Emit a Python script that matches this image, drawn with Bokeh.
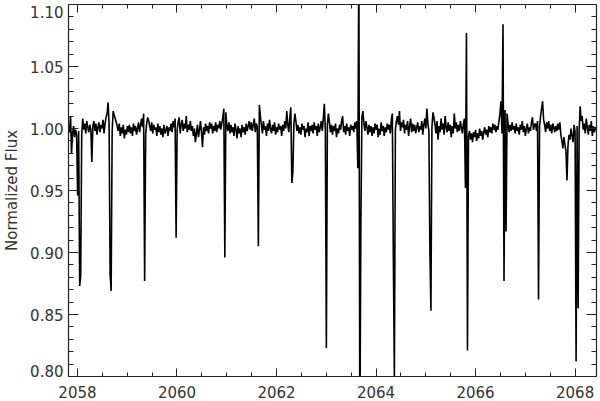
import numpy as np
from bokeh.plotting import figure
from bokeh.models import (LinearAxis, SingleIntervalTicker, FixedTicker,
                          CustomJSTickFormatter)
from bokeh.embed import file_html
from bokeh.resources import INLINE

# ---------------- data ----------------
T_START = 2057.82      # time of first sample
CADENCE = 0.0204       # days between samples
X_RANGE = (2057.82, 2068.43)
Y_RANGE = (0.80, 1.10)
X_TICK_STEP = 2
Y_MAJOR = [0.85, 0.90, 0.95, 1.00, 1.05]
Y_TITLE = "Normalized Flux"

flux = [
    1.001, 0.997, 1.010, 0.980, 0.996, 1.002, 0.993, 0.999, 0.995, 0.946, 0.998, 0.873, 0.881, 0.995, 1.008, 0.999, 1.004, 0.996, 1.006, 1.001,
    0.997, 1.003, 0.999, 0.973, 1.002, 1.006, 0.998, 1.004, 0.995, 1.001, 1.005, 0.997, 1.003, 1.000, 1.007, 0.996, 1.004, 1.009, 1.012, 1.021,
    1.003, 0.882, 0.869, 0.998, 1.014, 1.011, 1.008, 1.005, 1.002, 0.998, 1.004, 0.994, 1.001, 0.996, 1.003, 0.992, 0.999, 0.995, 1.002, 0.997,
    1.003, 0.996, 1.001, 0.994, 1.004, 0.998, 1.002, 0.995, 1.000, 1.005, 0.997, 1.003, 1.008, 1.001, 1.012, 0.877, 0.995, 1.004, 1.009, 1.006,
    1.002, 0.998, 1.005, 0.996, 1.003, 0.999, 1.001, 0.994, 1.004, 0.997, 1.002, 0.995, 1.000, 0.993, 1.003, 0.996, 0.999, 1.002, 0.994, 1.001,
    0.998, 1.004, 0.997, 1.006, 1.001, 1.008, 0.912, 0.999, 1.005, 1.009, 0.996, 1.003, 1.007, 0.998, 1.004, 1.000, 1.010, 0.997, 1.003, 0.999,
    1.006, 0.998, 1.002, 0.994, 1.000, 0.989, 0.996, 1.003, 0.993, 0.999, 1.006, 0.997, 0.985, 1.001, 0.995, 1.004, 0.998, 1.002, 0.996, 1.005,
    1.000, 1.004, 0.996, 1.002, 0.998, 1.005, 0.997, 1.003, 1.000, 1.006, 0.999, 1.004, 1.009, 1.016, 0.896, 1.013, 1.002, 0.998, 1.005, 0.996,
    1.003, 0.997, 1.001, 0.994, 1.004, 0.999, 0.992, 1.002, 0.996, 1.000, 0.993, 1.003, 0.997, 1.001, 0.995, 1.004, 0.998, 1.002, 1.006, 0.999,
    1.005, 0.998, 1.003, 1.008, 0.997, 1.004, 1.001, 0.905, 1.019, 1.010, 1.003, 0.996, 1.006, 0.999, 1.002, 0.994, 1.004, 0.998, 1.007, 1.000,
    0.996, 1.003, 0.998, 1.005, 0.995, 1.001, 0.997, 1.004, 0.999, 1.002, 0.994, 1.003, 0.998, 1.006, 1.000, 1.014, 1.003, 0.997, 1.009, 1.017,
    0.956, 0.965, 1.004, 1.012, 1.006, 0.998, 1.003, 0.996, 1.001, 0.995, 1.004, 0.999, 1.002, 0.993, 1.000, 0.997, 1.005, 0.994, 1.002, 0.998,
    1.003, 0.996, 1.005, 0.999, 1.002, 0.994, 1.004, 0.997, 1.001, 1.006, 0.998, 1.008, 1.020, 0.999, 0.823, 1.003, 1.012, 1.005, 0.997, 1.003,
    0.995, 1.002, 0.998, 1.004, 0.993, 1.000, 0.996, 1.003, 0.999, 1.006, 1.010, 0.997, 1.002, 0.995, 1.004, 0.998, 1.001, 0.994, 1.003, 0.999,
    1.002, 0.997, 1.005, 1.000, 1.006, 0.968, 1.140, 0.750, 0.923, 1.009, 1.014, 1.004, 0.998, 1.006, 1.001, 0.995, 1.003, 0.997, 1.002, 0.994,
    1.001, 0.996, 1.004, 0.999, 1.003, 0.993, 1.000, 0.995, 1.005, 0.998, 1.002, 0.994, 1.001, 0.997, 1.004, 0.999, 1.003, 0.996, 1.007, 1.012,
    0.895, 0.800, 0.999, 1.006, 1.010, 1.003, 1.014, 0.998, 1.005, 1.001, 1.007, 0.996, 1.003, 0.999, 1.006, 0.994, 1.002, 1.008, 0.997, 1.004,
    0.998, 1.003, 0.996, 1.001, 1.005, 0.997, 1.002, 0.999, 1.006, 0.995, 1.003, 1.008, 1.000, 1.016, 1.004, 0.998, 0.900, 0.853, 1.001, 1.013,
    1.009, 1.003, 0.996, 1.006, 0.991, 1.002, 0.997, 1.008, 0.999, 1.004, 0.995, 1.010, 1.001, 0.997, 1.005, 0.998, 1.003, 0.993, 1.002, 0.996,
    1.012, 1.000, 1.005, 0.997, 1.003, 0.998, 1.006, 1.001, 0.996, 1.004, 1.008, 0.952, 1.077, 0.821, 0.994, 0.998, 0.991, 0.996, 0.989, 0.997,
    0.993, 0.999, 0.990, 0.996, 0.992, 1.000, 0.994, 0.998, 0.991, 0.997, 1.001, 0.995, 0.999, 0.993, 1.002, 0.997, 1.001, 0.996, 1.004, 0.999,
    1.003, 0.997, 1.002, 0.999, 1.006, 1.012, 1.022, 0.996, 1.084, 0.877, 1.015, 0.917, 1.012, 1.004, 0.997, 1.003, 0.998, 1.005, 0.999, 1.002,
    0.996, 1.004, 0.998, 1.001, 0.995, 1.003, 0.999, 1.006, 0.997, 1.002, 0.994, 1.000, 1.004, 0.996, 1.001, 0.998, 1.005, 1.009, 0.999, 1.003,
    1.004, 0.998, 1.006, 0.862, 1.002, 1.010, 1.016, 1.022, 1.007, 1.003, 0.997, 1.005, 1.000, 1.006, 0.998, 1.003, 0.996, 1.004, 1.001, 0.997,
    1.002, 0.998, 1.004, 0.999, 1.005, 0.995, 0.990, 0.984, 0.993, 0.987, 0.982, 0.958, 0.986, 0.995, 0.991, 1.000, 0.994, 0.989, 1.003, 0.997,
    0.812, 1.002, 0.855, 0.998, 1.018, 1.006, 1.010, 0.999, 1.004, 0.996, 1.008, 1.001, 0.995, 1.003, 0.998, 1.006, 0.994, 1.002, 0.997, 1.001, 0.999,
]

time = T_START + CADENCE * np.arange(len(flux))

# ---------------- styling ----------------
FONT = "DejaVu Sans"
FSIZE = "15px"
TXT = "#333333"
AX = "#222222"
# where the y labels sit; the two end labels are pulled inside the frame
Y_LABEL_POS = [0.8046, 0.85, 0.90, 0.95, 1.00, 1.05, 1.0941]

p = figure(width=600, height=401, x_range=X_RANGE, y_range=Y_RANGE,
           output_backend="svg", toolbar_location=None,
           min_border_left=67, min_border_right=4, min_border_top=4,
           min_border_bottom=25)
p.outline_line_color = None
p.grid.visible = False
p.background_fill_color = "white"

p.line(time, flux, line_color="black", line_width=1.6)

y_minor = list(np.round(np.arange(Y_RANGE[0], Y_RANGE[1] + 0.0001, 0.01), 2))
x_ticker = SingleIntervalTicker(interval=X_TICK_STEP, num_minor_ticks=4)
y_ticker = FixedTicker(ticks=Y_MAJOR, minor_ticks=y_minor)
blank = CustomJSTickFormatter(code="return ''")


def style(ax, major_in, minor_in):
    ax.major_tick_in = major_in
    ax.major_tick_out = 0
    ax.minor_tick_in = minor_in
    ax.minor_tick_out = 0
    ax.axis_line_color = AX
    ax.major_tick_line_color = AX
    ax.minor_tick_line_color = AX
    ax.axis_line_width = 1.2
    ax.major_label_text_font = FONT
    ax.major_label_text_font_size = FSIZE
    ax.major_label_text_color = TXT


def no_labels(ax):
    ax.formatter = blank
    ax.major_label_text_font_size = "0px"
    ax.major_label_standoff = 0


xb = p.xaxis[0]
xb.ticker = x_ticker
style(xb, 8, 4)
xb.major_label_standoff = 9

# left axis: tick marks only
yl = p.yaxis[0]
yl.ticker = y_ticker
style(yl, 10, 5)
no_labels(yl)

# second left axis: labels and title only
ylab = LinearAxis(ticker=FixedTicker(ticks=Y_LABEL_POS, minor_ticks=[]),
                  formatter=CustomJSTickFormatter(code=(
                      "if (tick > 1.09) { return '1.10'; }"
                      "if (tick < 0.81) { return '0.80'; }"
                      "return tick.toFixed(2);")))
style(ylab, 0, 0)
ylab.axis_line_color = None
ylab.major_tick_line_color = None
ylab.minor_tick_line_color = None
ylab.major_label_standoff = 5
ylab.axis_label = Y_TITLE
ylab.axis_label_text_font = FONT
ylab.axis_label_text_font_size = FSIZE
ylab.axis_label_text_font_style = "normal"
ylab.axis_label_text_color = TXT
ylab.axis_label_standoff = 6
p.add_layout(ylab, "left")

xt = LinearAxis(ticker=x_ticker)
style(xt, 8, 4)
no_labels(xt)
p.add_layout(xt, "above")

yr = LinearAxis(ticker=y_ticker)
style(yr, 10, 5)
no_labels(yr)
p.add_layout(yr, "right")

open("out.html", "w").write(file_html(p, INLINE))
